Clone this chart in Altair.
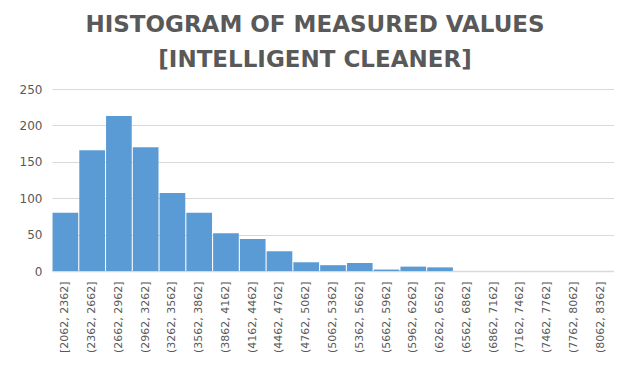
import altair as alt
import pandas as pd

bins = ["[2062, 2362]", "(2362, 2662]", "(2662, 2962]", "(2962, 3262]", "(3262, 3562]",
        "(3562, 3862]", "(3862, 4162]", "(4162, 4462]", "(4462, 4762]", "(4762, 5062]",
        "(5062, 5362]", "(5362, 5662]", "(5662, 5962]", "(5962, 6262]", "(6262, 6562]",
        "(6562, 6862]", "(6862, 7162]", "(7162, 7462]", "(7462, 7762]", "(7762, 8062]",
        "(8062, 8362]"]
counts = [80, 166, 213, 170, 107, 80, 52, 44, 27, 12, 8, 11, 2, 6, 5, 0, 0, 0, 0, 0, 0]

df = pd.DataFrame({"bin": bins, "count": counts})

chart = alt.Chart(df).mark_bar(color="#5B9BD5").encode(
    x=alt.X("bin:N", sort=None, title=None,
            scale=alt.Scale(paddingInner=0.04, paddingOuter=0.02),
            axis=alt.Axis(labelAngle=270, labelAlign="right", labelBaseline="middle",
                          labelFontSize=11, labelColor="#595959", labelFont="DejaVu Sans",
                          ticks=False, domainColor="#D9D9D9", domainWidth=1.5, labelPadding=10)),
    y=alt.Y("count:Q", title=None,
            scale=alt.Scale(domain=[0, 250]),
            axis=alt.Axis(values=[0, 50, 100, 150, 200, 250], ticks=False, domain=False,
                          gridColor="#D9D9D9", gridWidth=1.2, labelFontSize=12,
                          labelColor="#595959", labelFont="DejaVu Sans", labelPadding=10)),
).properties(
    width=562, height=182,
    autosize=alt.AutoSizeParams(type="none"),
    padding={"left": 44, "top": 81, "right": 0, "bottom": 100},
    title=alt.TitleParams(
        ["HISTOGRAM OF MEASURED VALUES", "[INTELLIGENT CLEANER]"],
        font="DejaVu Sans", fontSize=23, fontWeight="bold", color="#595959",
        lineHeight=35, anchor="middle", dx=-18, offset=11
    )
).configure_view(stroke=None).configure_axisX(grid=False)

chart.save("out.html", embed_options={"renderer": "svg", "actions": False})
